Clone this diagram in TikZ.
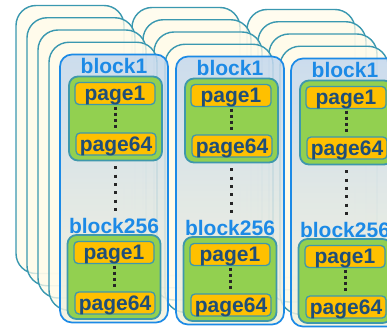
\documentclass[tikz,border=0pt]{standalone}
\usepackage{fontspec}
\setmainfont{Liberation Sans}
\definecolor{layercream}{HTML}{FFFBEA}
\definecolor{layerteal}{HTML}{3A98B0}
\definecolor{blockblue}{HTML}{1C8AE6}
\definecolor{blocktop}{HTML}{C3D7EE}
\definecolor{blockbottom}{HTML}{F4F2DC}
\definecolor{groupteal}{HTML}{3E98AC}
\definecolor{pagegreen}{HTML}{92D050}
\definecolor{pageorange}{HTML}{FFC000}
\definecolor{pagetext}{HTML}{1F4E79}

\begin{document}
\begin{tikzpicture}[
  x=1pt, y=-1pt,
  back_layer/.style={rectangle, rounded corners=20pt, minimum width=108pt, minimum height=268pt, draw=layerteal, line width=1.4pt, fill=layercream, fill opacity=0.75},
  front_block/.style={rectangle, rounded corners=12pt, minimum width=108pt, minimum height=268pt, draw=blockblue, line width=1.7pt, top color=blocktop, bottom color=blockbottom, fill opacity=0.85},
  block_label/.style={anchor=base, text=blockblue, font=\fontsize{21}{21}\selectfont\bfseries},
  page_group/.style={rectangle, rounded corners=9pt, minimum width=93pt, minimum height=84pt, draw=groupteal, line width=1.8pt, fill=pagegreen},
  page_box/.style={rectangle, rounded corners=4pt, minimum width=80pt, minimum height=22pt, inner sep=0pt, draw=groupteal, line width=1.3pt, fill=pageorange, text=pagetext, text depth=0pt, font=\fontsize{21}{21}\selectfont\bfseries},
  page_dots/.style={draw=black!85, line width=3pt, dash pattern=on 3pt off 3pt},
  block_dots/.style={draw=black!85, line width=3pt, dash pattern=on 3pt off 5.3pt},
]
\clip (0,0) rectangle (387,329);
% stacked layers behind the blocks, back to front
\foreach \k in {4,3,2,1}
  \foreach \c/\dx/\dy in {a/0/0, b/116/2, c/231/4}
    \node (\c_layer\k) [back_layer] at (114+\dx-11*\k, 188.5+\dy-12.25*\k) {};
% front block of each column
\foreach \c/\dx/\dy in {a/0/0, b/116/2, c/231/4} {
  \begin{scope}[shift={(\dx,\dy)}]
  \node (\c_block) [front_block] at (114,188.5) {};
  \node (\c_name1) [block_label] at (114,73) {block1};
  \node (\c_group1) [page_group] at (115.5,118.5) {};
  \node (\c_first1) [page_box] at (115,93.5) {page1};
  \node (\c_last1) [page_box] at (116,144) {page64};
  \node (\c_name2) [block_label] at (114,233) {block256};
  \node (\c_group2) [page_group] at (114,277) {};
  \node (\c_first2) [page_box] at (114,252.5) {page1};
  \node (\c_last2) [page_box] at (115,303) {page64};
  \draw[page_dots] ([yshift=-1.5pt]\c_first1.south) -- ([yshift=4pt]\c_first1.south |- \c_last1.north);
  \draw[block_dots] ([yshift=-5pt]\c_group1.south) -- ([yshift=3pt]\c_group1.south |- \c_name2.north);
  \draw[page_dots] ([yshift=-1.5pt]\c_first2.south) -- ([yshift=4pt]\c_first2.south |- \c_last2.north);
  \end{scope}
}
\end{tikzpicture}
\end{document}
